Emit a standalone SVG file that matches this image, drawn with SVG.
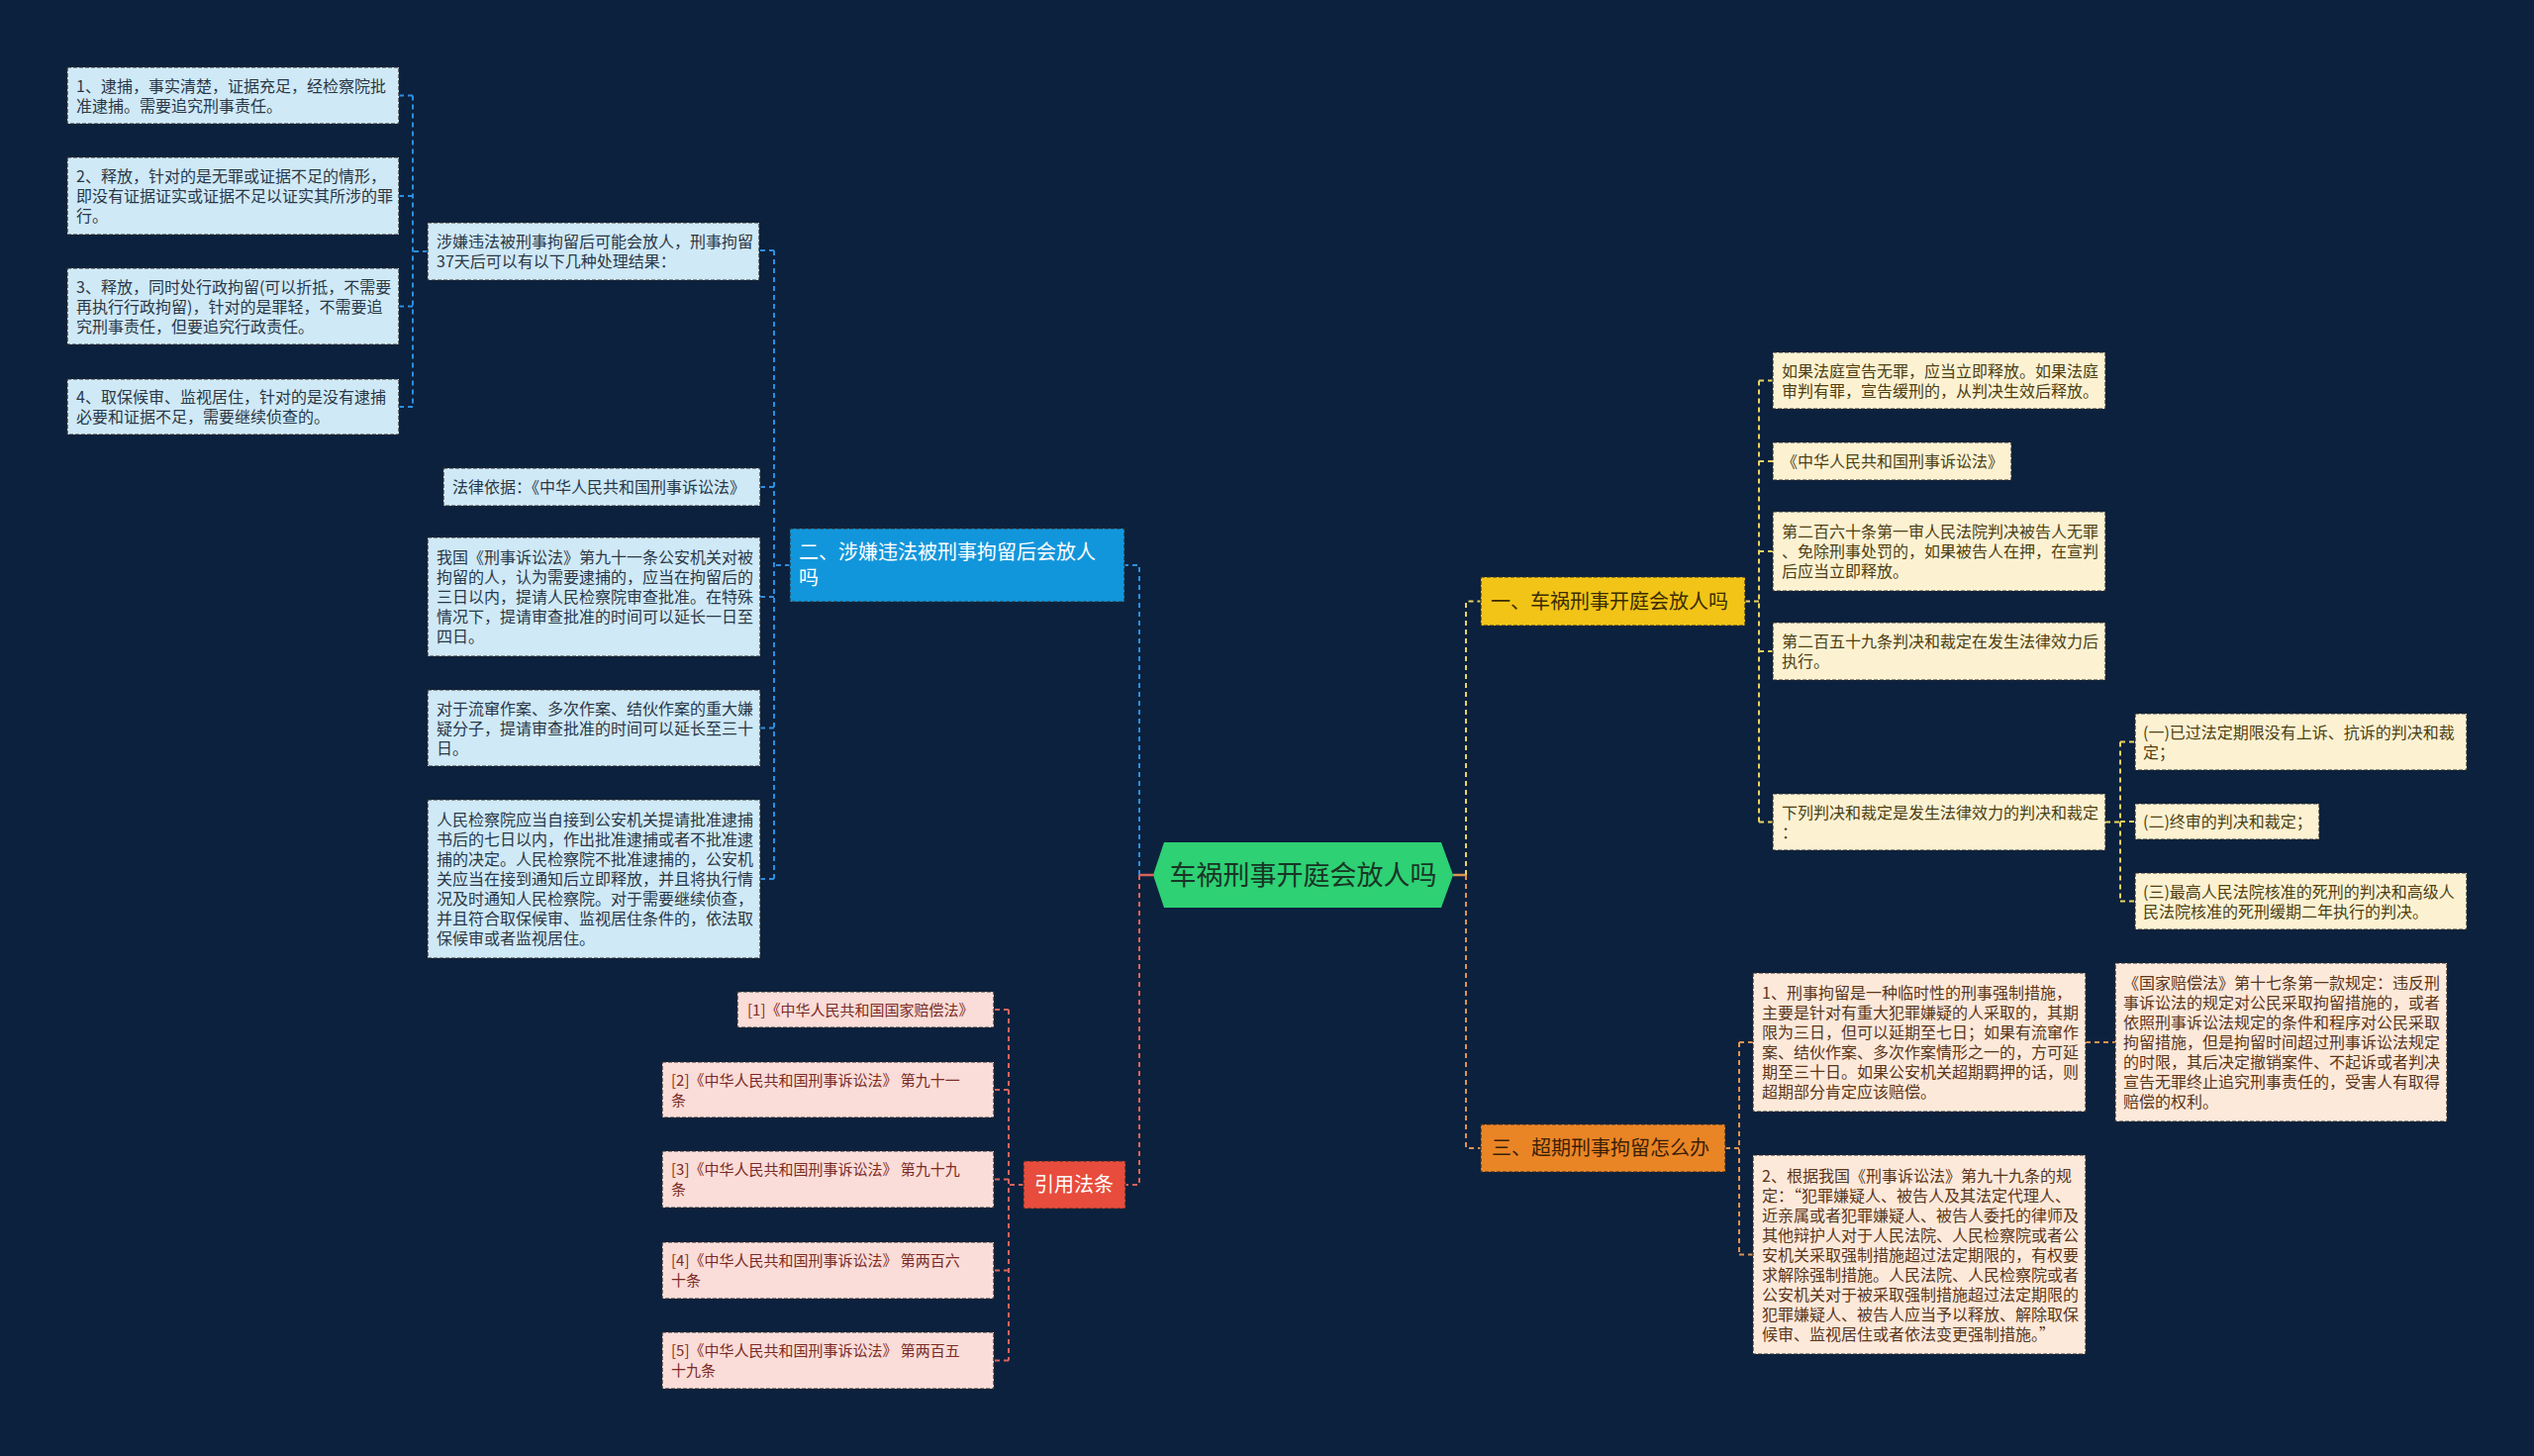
<svg xmlns="http://www.w3.org/2000/svg" width="2560" height="1471" viewBox="0 0 2560 1471">
<style>
text{font-family:"Noto Sans CJK SC","Noto Sans",sans-serif;}
.box{stroke:#2a2a2a;stroke-width:1.2;stroke-dasharray:4 2;}
.bc{fill:#cfe9f7;} .bt{fill:#2a3848;font-size:16px;}
.yc{fill:#fcf2d2;} .yt{fill:#4d3f12;font-size:16px;}
.oc{fill:#fde9da;} .ot{fill:#5a361a;font-size:16px;}
.rc{fill:#fadcd8;} .rt{fill:#7a2b24;font-size:15px;}
.l1{font-size:20px;}
.cn{fill:none;stroke-width:2;stroke-dasharray:5 4;}
.cb{stroke:#2b8fe0;} .cr{stroke:#d8645c;} .cy{stroke:#ebd35e;} .co{stroke:#dc9450;}
</style>
<rect width="2560" height="1471" fill="#0c213d"/>

<g id="connectors">
  <path class="cn cb" d="M1151,884 V571 H1136 M798,571 H782 M782,253 V888 M782,253 H767 M782,492 H768 M782,603 H768 M782,735.5 H768 M782,888 H768 M432,254 H417 M417,96.5 V411 M417,96.5 H403 M417,198 H403 M417,309.5 H403 M417,411 H403"/>
  <path d="M1165,884 H1151" stroke="#d8645c" stroke-width="2.5" fill="none"/>
  <path class="cn cr" d="M1151,884 V1197 H1137 M1034,1197 H1019 M1019,1020 V1374.5 M1019,1020 H1004 M1019,1101 H1004 M1019,1191.5 H1004 M1019,1283.5 H1004 M1019,1374.5 H1004"/>
  <path d="M1468,884 H1481" stroke="#dc9450" stroke-width="2.5" fill="none"/>
  <path class="cn cy" d="M1481,884 V607.5 H1496 M1763,607.5 H1777 M1777,384.5 V830.5 M1777,384.5 H1791 M1777,466 H1791 M1777,557 H1791 M1777,658 H1791 M1777,830.5 H1791 M2127,830.5 H2142 M2142,749.5 V910.5 M2142,749.5 H2157 M2142,830 H2157 M2142,910.5 H2157"/>
  <path class="cn co" d="M1481,884 V1160 H1496 M1743,1160 H1757 M1757,1053 V1267.5 M1757,1053 H1771 M1757,1267.5 H1771 M2107,1053 H2137"/>
</g>

<g id="root">
  <polygon points="1165,884 1176,851 1456,851 1468,884 1456,917 1176,917" fill="#2ed173"/>
  <text x="1316.5" y="894" text-anchor="middle" font-size="27" fill="#183526">车祸刑事开庭会放人吗</text>
</g>

<!-- Branch 1 (yellow) -->
<g id="n-y">
  <rect class="box" x="1496" y="583" width="267" height="49" fill="#f2c417"/>
  <text class="l1" x="1506" y="614.5" fill="#3a2d00">一、车祸刑事开庭会放人吗</text>
</g>
<g id="n-y1">
  <rect class="box yc" x="1791" y="356" width="336" height="57"/>
  <text class="yt" x="1800" y="380.5">如果法庭宣告无罪，应当立即释放。如果法庭</text>
  <text class="yt" x="1800" y="400.5">审判有罪，宣告缓刑的，从判决生效后释放。</text>
</g>
<g id="n-y2">
  <rect class="box yc" x="1791" y="447" width="241" height="38"/>
  <text class="yt" x="1800" y="472">《中华人民共和国刑事诉讼法》</text>
</g>
<g id="n-y3">
  <rect class="box yc" x="1791" y="517" width="336" height="80"/>
  <text class="yt" x="1800" y="543">第二百六十条第一审人民法院判决被告人无罪</text>
  <text class="yt" x="1800" y="563">、免除刑事处罚的，如果被告人在押，在宣判</text>
  <text class="yt" x="1800" y="583">后应当立即释放。</text>
</g>
<g id="n-y4">
  <rect class="box yc" x="1791" y="629" width="336" height="58"/>
  <text class="yt" x="1800" y="654">第二百五十九条判决和裁定在发生法律效力后</text>
  <text class="yt" x="1800" y="674">执行。</text>
</g>
<g id="n-y5">
  <rect class="box yc" x="1791" y="802" width="336" height="57"/>
  <text class="yt" x="1800" y="826.5">下列判决和裁定是发生法律效力的判决和裁定</text>
  <text class="yt" x="1800" y="846.5">：</text>
</g>
<g id="n-y5a">
  <rect class="box yc" x="2157" y="721" width="335" height="57"/>
  <text class="yt" x="2165" y="745.5">(一)已过法定期限没有上诉、抗诉的判决和裁</text>
  <text class="yt" x="2165" y="765.5">定；</text>
</g>
<g id="n-y5b">
  <rect class="box yc" x="2157" y="812" width="186" height="36"/>
  <text class="yt" x="2165" y="836">(二)终审的判决和裁定；</text>
</g>
<g id="n-y5c">
  <rect class="box yc" x="2157" y="882" width="335" height="57"/>
  <text class="yt" x="2165" y="906.5">(三)最高人民法院核准的死刑的判决和高级人</text>
  <text class="yt" x="2165" y="926.5">民法院核准的死刑缓期二年执行的判决。</text>
</g>

<!-- Branch 3 (orange) -->
<g id="n-o">
  <rect class="box" x="1496" y="1136" width="247" height="48" fill="#ea8526"/>
  <text class="l1" x="1507" y="1167" fill="#3b1f05">三、超期刑事拘留怎么办</text>
</g>
<g id="n-o1">
  <rect class="box oc" x="1771" y="983" width="336" height="140"/>
  <text class="ot" x="1780" y="1009">1、刑事拘留是一种临时性的刑事强制措施，</text>
  <text class="ot" x="1780" y="1029">主要是针对有重大犯罪嫌疑的人采取的，其期</text>
  <text class="ot" x="1780" y="1049">限为三日，但可以延期至七日；如果有流窜作</text>
  <text class="ot" x="1780" y="1069">案、结伙作案、多次作案情形之一的，方可延</text>
  <text class="ot" x="1780" y="1089">期至三十日。如果公安机关超期羁押的话，则</text>
  <text class="ot" x="1780" y="1109">超期部分肯定应该赔偿。</text>
</g>
<g id="n-o1a">
  <rect class="box oc" x="2137" y="973" width="335" height="160"/>
  <text class="ot" x="2145" y="999">《国家赔偿法》第十七条第一款规定：违反刑</text>
  <text class="ot" x="2145" y="1019">事诉讼法的规定对公民采取拘留措施的，或者</text>
  <text class="ot" x="2145" y="1039">依照刑事诉讼法规定的条件和程序对公民采取</text>
  <text class="ot" x="2145" y="1059">拘留措施，但是拘留时间超过刑事诉讼法规定</text>
  <text class="ot" x="2145" y="1079">的时限，其后决定撤销案件、不起诉或者判决</text>
  <text class="ot" x="2145" y="1099">宣告无罪终止追究刑事责任的，受害人有取得</text>
  <text class="ot" x="2145" y="1119">赔偿的权利。</text>
</g>
<g id="n-o2">
  <rect class="box oc" x="1771" y="1167" width="336" height="201"/>
  <text class="ot" x="1780" y="1193.5">2、根据我国《刑事诉讼法》第九十九条的规</text>
  <text class="ot" x="1780" y="1213.5">定：“犯罪嫌疑人、被告人及其法定代理人、</text>
  <text class="ot" x="1780" y="1233.5">近亲属或者犯罪嫌疑人、被告人委托的律师及</text>
  <text class="ot" x="1780" y="1253.5">其他辩护人对于人民法院、人民检察院或者公</text>
  <text class="ot" x="1780" y="1273.5">安机关采取强制措施超过法定期限的，有权要</text>
  <text class="ot" x="1780" y="1293.5">求解除强制措施。人民法院、人民检察院或者</text>
  <text class="ot" x="1780" y="1313.5">公安机关对于被采取强制措施超过法定期限的</text>
  <text class="ot" x="1780" y="1333.5">犯罪嫌疑人、被告人应当予以释放、解除取保</text>
  <text class="ot" x="1780" y="1353.5">候审、监视居住或者依法变更强制措施。”</text>
</g>

<!-- Branch 2 (blue) -->
<g id="n-b">
  <rect class="box" x="798" y="534" width="338" height="74" fill="#1296db"/>
  <text class="l1" x="807" y="565" fill="#ffffff">二、涉嫌违法被刑事拘留后会放人</text>
  <text class="l1" x="807" y="591" fill="#ffffff">吗</text>
</g>
<g id="n-b0">
  <rect class="box bc" x="432" y="225" width="335" height="58"/>
  <text class="bt" x="441" y="250">涉嫌违法被刑事拘留后可能会放人，刑事拘留</text>
  <text class="bt" x="441" y="270">37天后可以有以下几种处理结果：</text>
</g>
<g id="n-l1">
  <rect class="box bc" x="68" y="68" width="335" height="57"/>
  <text class="bt" x="77" y="92.5">1、逮捕，事实清楚，证据充足，经检察院批</text>
  <text class="bt" x="77" y="112.5">准逮捕。需要追究刑事责任。</text>
</g>
<g id="n-l2">
  <rect class="box bc" x="68" y="159" width="335" height="78"/>
  <text class="bt" x="77" y="184">2、释放，针对的是无罪或证据不足的情形，</text>
  <text class="bt" x="77" y="204">即没有证据证实或证据不足以证实其所涉的罪</text>
  <text class="bt" x="77" y="224">行。</text>
</g>
<g id="n-l3">
  <rect class="box bc" x="68" y="271" width="335" height="77"/>
  <text class="bt" x="77" y="295.5">3、释放，同时处行政拘留(可以折抵，不需要</text>
  <text class="bt" x="77" y="315.5">再执行行政拘留)，针对的是罪轻，不需要追</text>
  <text class="bt" x="77" y="335.5">究刑事责任，但要追究行政责任。</text>
</g>
<g id="n-l4">
  <rect class="box bc" x="68" y="383" width="335" height="56"/>
  <text class="bt" x="77" y="407">4、取保候审、监视居住，针对的是没有逮捕</text>
  <text class="bt" x="77" y="427">必要和证据不足，需要继续侦查的。</text>
</g>
<g id="n-b1">
  <rect class="box bc" x="448" y="473" width="320" height="38"/>
  <text class="bt" x="457" y="498">法律依据：《中华人民共和国刑事诉讼法》</text>
</g>
<g id="n-b2">
  <rect class="box bc" x="432" y="543" width="336" height="120"/>
  <text class="bt" x="441" y="569">我国《刑事诉讼法》第九十一条公安机关对被</text>
  <text class="bt" x="441" y="589">拘留的人，认为需要逮捕的，应当在拘留后的</text>
  <text class="bt" x="441" y="609">三日以内，提请人民检察院审查批准。在特殊</text>
  <text class="bt" x="441" y="629">情况下，提请审查批准的时间可以延长一日至</text>
  <text class="bt" x="441" y="649">四日。</text>
</g>
<g id="n-b3">
  <rect class="box bc" x="432" y="697" width="336" height="77"/>
  <text class="bt" x="441" y="721.5">对于流窜作案、多次作案、结伙作案的重大嫌</text>
  <text class="bt" x="441" y="741.5">疑分子，提请审查批准的时间可以延长至三十</text>
  <text class="bt" x="441" y="761.5">日。</text>
</g>
<g id="n-b4">
  <rect class="box bc" x="432" y="808" width="336" height="160"/>
  <text class="bt" x="441" y="834">人民检察院应当自接到公安机关提请批准逮捕</text>
  <text class="bt" x="441" y="854">书后的七日以内，作出批准逮捕或者不批准逮</text>
  <text class="bt" x="441" y="874">捕的决定。人民检察院不批准逮捕的，公安机</text>
  <text class="bt" x="441" y="894">关应当在接到通知后立即释放，并且将执行情</text>
  <text class="bt" x="441" y="914">况及时通知人民检察院。对于需要继续侦查，</text>
  <text class="bt" x="441" y="934">并且符合取保候审、监视居住条件的，依法取</text>
  <text class="bt" x="441" y="954">保候审或者监视居住。</text>
</g>

<!-- Branch 4 (red) -->
<g id="n-r">
  <rect class="box" x="1034" y="1173" width="103" height="48" fill="#e74c3c"/>
  <text class="l1" x="1045" y="1204" fill="#ffffff">引用法条</text>
</g>
<g id="n-r1">
  <rect class="box rc" x="745" y="1002" width="259" height="36"/>
  <text class="rt" x="755" y="1025.5">[1]《中华人民共和国国家赔偿法》</text>
</g>
<g id="n-r2">
  <rect class="box rc" x="669" y="1073" width="335" height="56"/>
  <text class="rt" x="678" y="1096.5">[2]《中华人民共和国刑事诉讼法》 第九十一</text>
  <text class="rt" x="678" y="1116.5">条</text>
</g>
<g id="n-r3">
  <rect class="box rc" x="669" y="1163" width="335" height="57"/>
  <text class="rt" x="678" y="1187">[3]《中华人民共和国刑事诉讼法》 第九十九</text>
  <text class="rt" x="678" y="1207">条</text>
</g>
<g id="n-r4">
  <rect class="box rc" x="669" y="1255" width="335" height="57"/>
  <text class="rt" x="678" y="1279">[4]《中华人民共和国刑事诉讼法》 第两百六</text>
  <text class="rt" x="678" y="1299">十条</text>
</g>
<g id="n-r5">
  <rect class="box rc" x="669" y="1346" width="335" height="57"/>
  <text class="rt" x="678" y="1370">[5]《中华人民共和国刑事诉讼法》 第两百五</text>
  <text class="rt" x="678" y="1390">十九条</text>
</g>
</svg>
